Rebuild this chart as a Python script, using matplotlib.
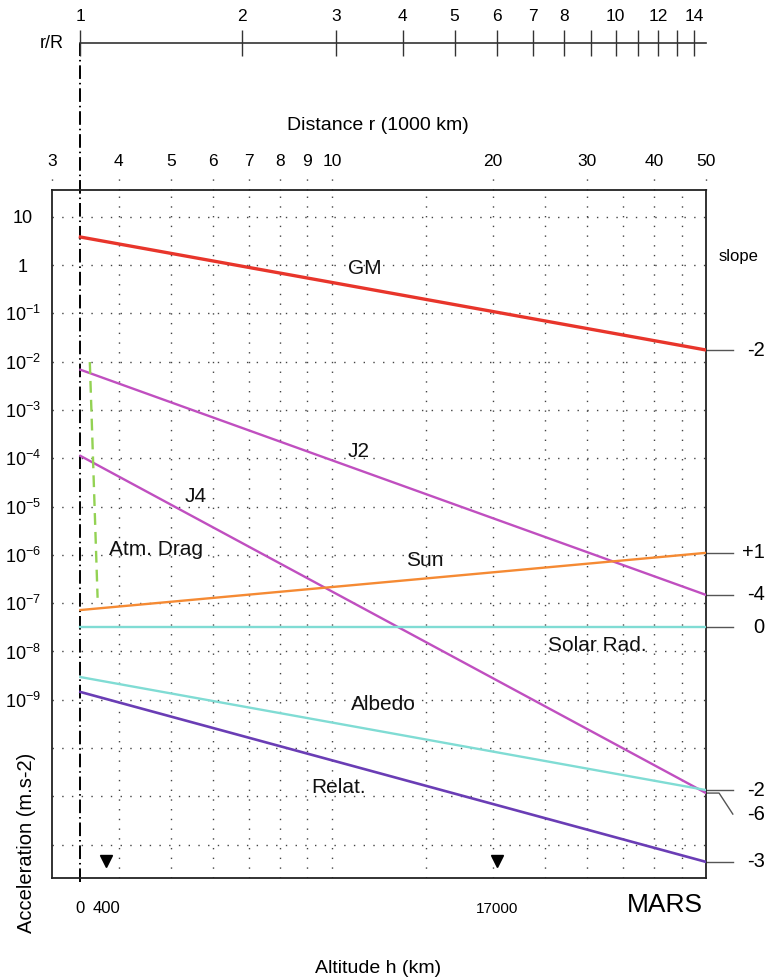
# Mars perturbing accelerations vs distance

import numpy as np
import matplotlib
matplotlib.use('Agg')
import matplotlib.pyplot as plt
from matplotlib.ticker import FixedLocator, NullLocator, FixedFormatter
import matplotlib.transforms as mtransforms

plt.rcParams['font.family'] = 'Liberation Sans'
plt.rcParams['mathtext.fontset'] = 'custom'
plt.rcParams['mathtext.rm'] = 'Liberation Sans'

R = 3.3895  # Mars radius, 1000 km

# line end points: r = R and r = 50 (1000 km)
r_ends = [R, 50]
gm = [3.8, 1.74e-2]
j2 = [6.8e-3, 1.48e-7]
j4 = [1.12e-4, 1.17e-11]
sun = [7.2e-8, 1.1e-6]
solar_rad = [3.2e-8, 3.2e-8]
albedo = [2.95e-9, 1.35e-11]
relat = [1.45e-9, 4.4e-13]
drag_r = [3.53, 3.65]
drag = [9.8e-3, 1.29e-7]

dist_ticks = [3, 4, 5, 6, 7, 8, 9, 10, 20, 30, 40, 50]
grid_r = [4, 5, 6, 7, 8, 9, 10, 15, 20, 25, 30, 35, 40, 45]
rR_ticks = [1, 2, 3, 4, 5, 6, 7, 8, 9, 10, 11, 12, 13, 14]
rR_labels = ['1', '2', '3', '4', '5', '6', '7', '8', '', '10', '', '12', '', '14']
y_decades = list(range(1, -13, -1))
alt_marks = [0.4, 17.0]          # altitudes, 1000 km
alt_labels = ['0', '400', '17000']
alt_label_h = [0.0, 0.4, 17.0]

slopes = [('-2', gm[1]), ('+1', sun[1]), ('-4', j2[1]), ('0', solar_rad[1]),
          ('-2', albedo[1]), ('-6', j4[1]), ('-3', relat[1])]

W, H = 768, 980
fig = plt.figure(figsize=(W / 100, H / 100), dpi=100)
ax = fig.add_axes([52 / W, (H - 878) / H, 654 / W, 688 / H])
ax.set_xscale('log')
ax.set_yscale('log')
ax.set_xlim(3, 50)
ax.set_ylim(10 ** -12.69, 10 ** 1.553)

# grid
dot = (0, (1, 6))
gcol = '#444444'
for g in grid_r:
    ax.axvline(g, color=gcol, lw=1.0, ls=dot, zorder=1)
for d in y_decades:
    ax.axhline(10.0 ** d, color=gcol, lw=1.0, ls=dot, zorder=1)
tr = mtransforms.blended_transform_factory(ax.transData, ax.transAxes)
for t in dist_ticks:
    ax.plot([t, t], [1.0, 1.0 + 15 / 688], transform=tr, color=gcol,
            lw=1.0, ls=dot, clip_on=False)

# r = R dash-dot line
ax.plot([R, R], [-4 / 688, (878 - 43) / 688], transform=tr, color='black',
        lw=1.4, ls=(0, (7, 2, 0.8, 2)), clip_on=False, zorder=2)

# curves
ax.plot(r_ends, gm, color='#e8352b', lw=2.4, zorder=3)
ax.plot(r_ends, j2, color='#c04fc0', lw=1.7, zorder=3)
ax.plot(r_ends, j4, color='#c04fc0', lw=1.7, zorder=3)
ax.plot(r_ends, sun, color='#f58a33', lw=1.7, zorder=3)
ax.plot(r_ends, solar_rad, color='#80dcd4', lw=1.7, zorder=3)
ax.plot(r_ends, albedo, color='#80dcd4', lw=1.7, zorder=3)
ax.plot(r_ends, relat, color='#6a3db5', lw=1.9, zorder=3)
ax.plot(drag_r, drag, color='#93d253', lw=1.7, ls=(0, (5, 3)), zorder=3)

# curve labels
lab = dict(fontsize=15, ha='center', va='center', color='#111111')
ax.text(11.5, 0.83, 'GM', **lab)
ax.text(11.2, 1.35e-4, 'J2', **lab)
ax.text(5.56, 1.6e-5, 'J4', **lab)
ax.text(4.7, 1.3e-6, 'Atm. Drag', **lab)
ax.text(14.9, 7.8e-7, 'Sun', **lab)
ax.text(31.3, 1.35e-8, 'Solar Rad.', **lab)
ax.text(12.5, 7.8e-10, 'Albedo', **lab)
ax.text(10.3, 1.5e-11, 'Relat.', **lab)

# altitude markers
for h in alt_marks:
    ax.plot([R + h], [0.025], marker='v', color='black', ms=8,
            transform=tr, clip_on=False, zorder=4)
for s, h in zip(alt_labels, alt_label_h):
    fs = 11 if s == '17000' else 12
    ax.text(R + h, -0.045, s, transform=tr, ha='center', va='center', fontsize=fs)

# slopes on the right
ax.text(1.05, (878 - 256) / 688, 'slope', transform=ax.transAxes,
        ha='center', va='center', fontsize=12)
trr = mtransforms.blended_transform_factory(ax.transAxes, ax.transData)
for s, v in slopes:
    if s == '-6':
        yv = v / 10 ** (21 / 48.3)
        ax.plot([1.0, 1.02, 1.041], [v, v, yv], transform=trr,
                color='#555555', lw=1, clip_on=False)
    else:
        ax.plot([1.0, 1.041], [v, v], transform=trr, color='#555555', lw=1, clip_on=False)
        yv = v
    ax.text(1.09, yv, s, transform=trr, ha='right', va='center', fontsize=14.5)

# axes styling
for sp in ax.spines.values():
    sp.set_color('#222222')
    sp.set_linewidth(1.3)
ax.xaxis.set_major_locator(FixedLocator(dist_ticks))
ax.xaxis.set_major_formatter(FixedFormatter([str(t) for t in dist_ticks]))
ax.xaxis.set_minor_locator(NullLocator())
ax.xaxis.tick_top()
ax.tick_params(axis='x', which='both', length=0, pad=15, labelsize=12.5)
ax.yaxis.set_major_locator(FixedLocator([10.0 ** d for d in range(1, -10, -1)]))
ylabs = ['10', '1'] + ['$\\mathregular{10^{-%d}}$' % d for d in range(1, 10)]
ax.yaxis.set_major_formatter(FixedFormatter(ylabs))
ax.yaxis.set_minor_locator(NullLocator())
ax.tick_params(axis='y', which='both', length=0, pad=21, labelsize=13)
for t in ax.get_yticklabels():
    t.set_ha('center')

# r/R axis
axr = fig.add_axes([52 / W, (H - 43 - 10) / H, 654 / W, 10 / H])
axr.set_xscale('log')
axr.set_xlim(3 / R, 50 / R)
axr.patch.set_visible(False)
for k in ['left', 'right', 'bottom']:
    axr.spines[k].set_visible(False)
axr.spines['top'].set_bounds(1, 50 / R)
axr.spines['top'].set_color('#333333')
axr.spines['top'].set_linewidth(1.2)
axr.set_yticks([])
axr.xaxis.set_major_locator(FixedLocator(rR_ticks))
axr.xaxis.set_major_formatter(FixedFormatter(rR_labels))
axr.xaxis.set_minor_locator(NullLocator())
axr.xaxis.tick_top()
axr.tick_params(axis='x', direction='inout', length=19, width=1, color='#333333',
                pad=4, labelsize=12.5)

# texts
fig.text(64 / W, 1 - 43 / H, 'r/R', ha='right', va='center', fontsize=13)
fig.text(378 / W, 1 - 125 / H, 'Distance r (1000 km)', ha='center', va='center', fontsize=14)
fig.text(27 / W, 1 - 843 / H, 'Acceleration (m.s-2)', rotation=90, ha='center',
         va='center', fontsize=14.5)
fig.text(378 / W, 1 - 968 / H, 'Altitude h (km)', ha='center', va='center', fontsize=14)
fig.text(665 / W, 1 - 905 / H, 'MARS', ha='center', va='center', fontsize=19)

fig.savefig('out.png', dpi=100)
